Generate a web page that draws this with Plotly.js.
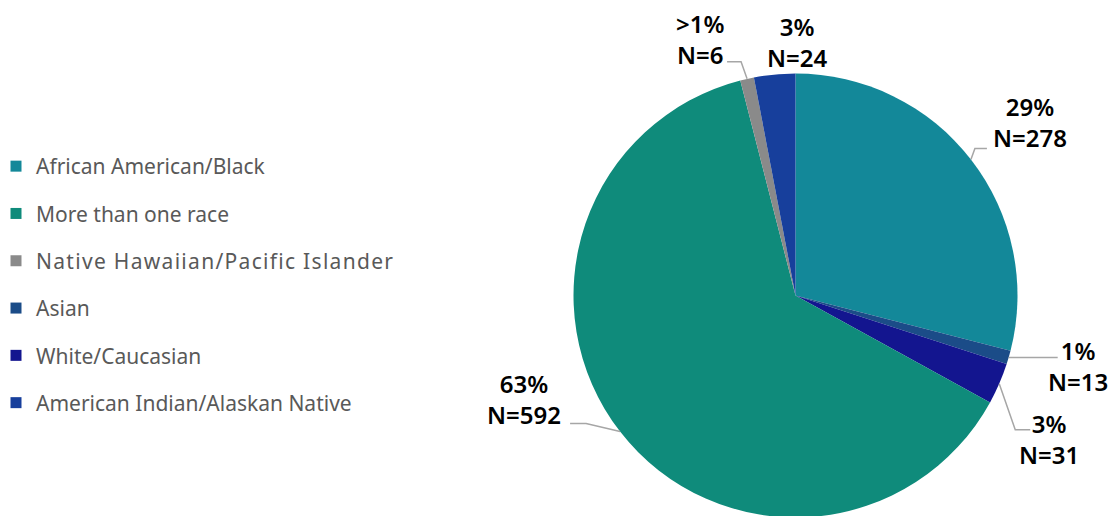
<!DOCTYPE html>
<html>
<head>
<meta charset="utf-8">
<script src="https://cdn.plot.ly/plotly-3.0.1.min.js"></script>
<style>
html, body { margin:0; padding:0; width:1115px; height:516px; overflow:hidden; background:#fff; }
#chart { width:1115px; height:520px; }
</style>
</head>
<body>
<div id="chart"></div>
<script>
// ---- data ----
const categories = ['African American/Black', 'Asian', 'White/Caucasian', 'More than one race', 'Native Hawaiian/Pacific Islander', 'American Indian/Alaskan Native'];
const percentValues = [29, 1, 3, 63, 1, 3];
const counts = [278, 13, 31, 592, 6, 24];
const percentLabels = ['29%', '1%', '3%', '63%', '>1%', '3%'];
const legendOrder = ['African American/Black', 'More than one race', 'Native Hawaiian/Pacific Islander', 'Asian', 'White/Caucasian', 'American Indian/Alaskan Native'];

// ---- styles ----
const colorMap = {
  'African American/Black': '#138899',
  'Asian': '#1B4C88',
  'White/Caucasian': '#13158F',
  'More than one race': '#0F8B7B',
  'Native Hawaiian/Pacific Islander': '#8A8A8A',
  'American Indian/Alaskan Native': '#173F9C'
};
const W = 1115, H = 520;
const CX = 795.5, CY = 295.5, R = 222;
// label placement relative to the slice's mid-angle edge point (pixels)
const labelPlacement = [
  {label: [59, -37], path: [[4, -11], [16, -11]]},
  {label: [69, 9],   path: [[49, 0]]},
  {label: [50, 55],  path: [[16, 46], [31, 46]]},
  {label: [-96, -33], path: [[-34, -8], [-50, -8]]},
  {label: [-47, -40], path: [[-6, -17], [-20, -17]]},
  {label: [22, -32], path: []}
];

const px = x => x / W;
const py = y => 1 - y / H;

const total = percentValues.reduce((a, b) => a + b, 0);
let cum = 0;
const annotations = [];
const shapes = [];
percentValues.forEach((v, i) => {
  const mid = (cum + v / 2) / total * 2 * Math.PI;
  cum += v;
  const P = [CX + R * Math.sin(mid), CY - R * Math.cos(mid)];
  const pl = labelPlacement[i];
  annotations.push({
    xref: 'paper', yref: 'paper',
    x: px(P[0] + pl.label[0]), y: py(P[1] + pl.label[1]),
    xanchor: 'center', yanchor: 'middle', showarrow: false, align: 'center',
    text: percentLabels[i] + '<br>N=' + counts[i],
    font: {family: 'Noto Sans, sans-serif', size: 24, weight: 600, color: '#000000'}
  });
  if (pl.path.length) {
    let d = 'M' + px(P[0]) + ',' + py(P[1]);
    pl.path.forEach(p => { d += ' L' + px(P[0] + p[0]) + ',' + py(P[1] + p[1]); });
    shapes.push({type: 'path', xref: 'paper', yref: 'paper', path: d,
      line: {color: '#A6A6A6', width: 1.5}});
  }
});

const pieTrace = {
  type: 'pie',
  labels: categories,
  values: percentValues,
  sort: false,
  direction: 'clockwise',
  rotation: 0,
  textinfo: 'none',
  hoverinfo: 'label+value',
  showlegend: false,
  marker: {colors: categories.map(c => colorMap[c]), line: {width: 0}},
  domain: {x: [px(CX - R), px(CX + R)], y: [py(CY + R), py(CY - R)]}
};

const legendTraces = legendOrder.map(name => ({
  type: 'scatter', mode: 'markers', x: [null], y: [null],
  name: name === 'Native Hawaiian/Pacific Islander'
    ? '<span style="letter-spacing:1.3px">' + name + '</span>' : name,
  legendgroup: name,
  marker: {symbol: 'square', size: 11, color: colorMap[name]},
  hoverinfo: 'skip'
}));

const layout = {
  width: W, height: H,
  margin: {l: 0, r: 0, t: 0, b: 0},
  paper_bgcolor: '#ffffff', plot_bgcolor: '#ffffff',
  xaxis: {visible: false}, yaxis: {visible: false},
  showlegend: true,
  legend: {
    x: 0, xanchor: 'left', y: py(146), yanchor: 'top',
    indentation: -4,
    traceorder: 'grouped', tracegroupgap: 17,
    font: {family: 'Noto Sans, sans-serif', size: 21, color: '#595959'},
    bgcolor: 'rgba(0,0,0,0)'
  },
  annotations: annotations,
  shapes: shapes
};

Plotly.newPlot('chart', [pieTrace].concat(legendTraces), layout, {displayModeBar: false, staticPlot: true});
</script>
</body>
</html>
